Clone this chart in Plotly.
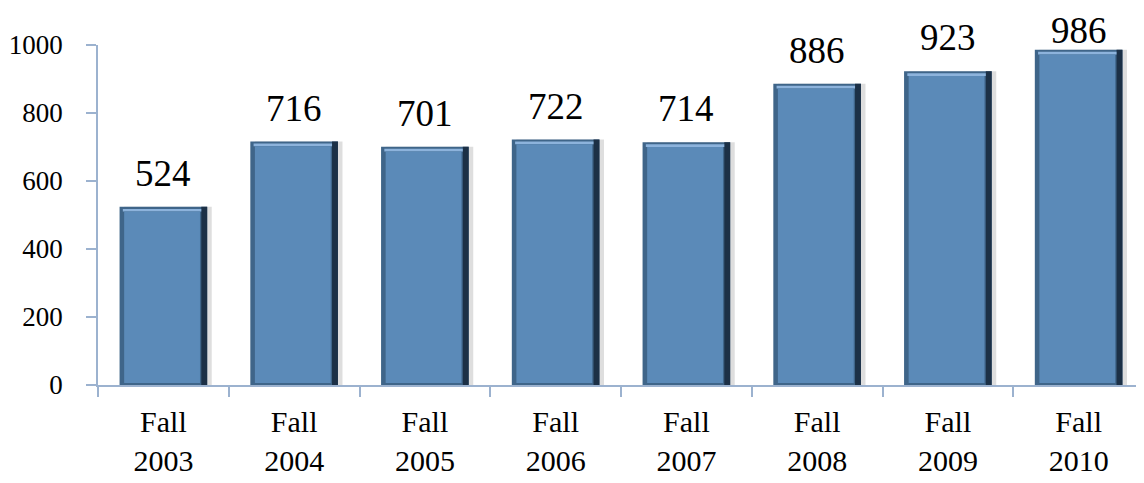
import plotly.graph_objects as go

categories = ["Fall<br>2003", "Fall<br>2004", "Fall<br>2005", "Fall<br>2006",
              "Fall<br>2007", "Fall<br>2008", "Fall<br>2009", "Fall<br>2010"]
values = [524, 716, 701, 722, 714, 886, 923, 986]
y_ticks = [0, 200, 400, 600, 800, 1000]

FONT = "Liberation Serif, Times New Roman, serif"
AXIS = "#9cb2cf"
BW = 0.67

fig = go.Figure()
# soft shadow
fig.add_trace(go.Bar(x=categories, y=values, width=BW, offset=-BW / 2 + 0.035,
                     marker=dict(color="rgba(0,0,0,0.13)", line=dict(width=0)),
                     hoverinfo="skip", showlegend=False))
# main bar (dark rim)
fig.add_trace(go.Bar(x=categories, y=values, width=BW, offset=-BW / 2,
                     marker=dict(color="#3f6589", line=dict(width=0)),
                     hoverinfo="skip", showlegend=False))
# dark right edge
fig.add_trace(go.Bar(x=categories, y=values, width=0.045, offset=BW / 2 - 0.045,
                     marker=dict(color="#1c3046", line=dict(width=0)),
                     hoverinfo="skip", showlegend=False))
# top highlight
fig.add_trace(go.Bar(x=categories, y=[8] * len(values), base=[v - 14 for v in values],
                     width=BW - 0.07, offset=-BW / 2 + 0.025,
                     marker=dict(color="#8db3dc", line=dict(width=0)),
                     hoverinfo="skip", showlegend=False))
# inner face
fig.add_trace(go.Bar(x=categories, y=[v - 20 for v in values], base=6,
                     width=BW - 0.09, offset=-BW / 2 + 0.035,
                     marker=dict(color="#5b8ab8", line=dict(width=0)),
                     hoverinfo="skip", showlegend=False))

# value labels
for i, (c, v) in enumerate(zip(categories, values)):
    fig.add_annotation(x=c, y=v, text=str(v), showarrow=False, yanchor="bottom",
                       yshift=(-3 if v > 950 else 11),
                       font=dict(family=FONT, size=37, color="black"))

fig.update_layout(
    width=1136, height=475,
    margin=dict(l=90, r=0, t=37, b=98),
    paper_bgcolor="white", plot_bgcolor="white",
    barmode="overlay",
    font=dict(family=FONT, color="black"),
)
fig.update_xaxes(type="category", showline=True, linecolor=AXIS, linewidth=1.5,
                 ticks="outside", tickson="boundaries", ticklen=10, tickcolor=AXIS,
                 tickwidth=1.5, tickfont=dict(family=FONT, size=30), showgrid=False,
                 range=[-0.5, 7.5], ticklabelstandoff=9, automargin=False)
fig.update_yaxes(range=[0, 1000], tickvals=y_ticks, showline=True, linecolor=AXIS,
                 linewidth=1.5, ticks="outside", ticklen=10, tickcolor=AXIS, tickwidth=1.5,
                 tickfont=dict(family=FONT, size=27), showgrid=False, zeroline=False,
                 ticklabelstandoff=18, automargin=False)

fig.write_html("out.html")
